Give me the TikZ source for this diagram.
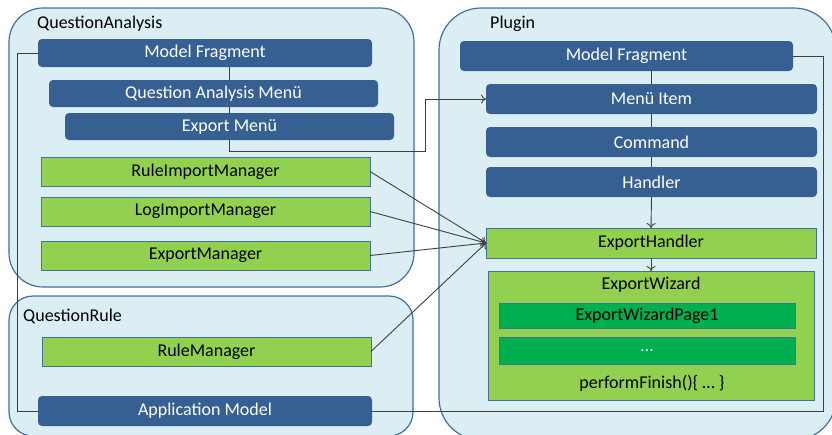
\documentclass[tikz,border=0pt]{standalone}
\usepackage{fontspec}
\setmainfont{Carlito}
\usetikzlibrary{arrows.meta}

\definecolor{modelblue}{HTML}{376092}
\definecolor{managergreen}{HTML}{92D050}
\definecolor{pagegreen}{HTML}{00B050}
\definecolor{groupbg}{HTML}{DBEEF4}
\definecolor{groupedge}{HTML}{41719C}

\tikzset{
  group/.style={draw=groupedge, line width=1.2pt, fill=groupbg, inner sep=0pt, outer sep=0pt},
  grouplabel/.style={anchor=base west, inner sep=0pt},
  modelbox/.style={fill=modelblue, text=white, rounded corners=4pt,
    minimum height=28pt, inner sep=0pt, outer sep=0pt},
  managerbox/.style={draw=groupedge, line width=1pt, fill=managergreen,
    minimum width=329pt, minimum height=29pt, inner sep=0pt, outer sep=0pt},
  pagebox/.style={draw=groupedge, line width=1pt, fill=pagegreen,
    minimum width=296pt, inner sep=0pt, outer sep=0pt},
  link/.style={draw=black!75, line width=0.9pt},
  >={To[length=5pt,width=9pt]}
}

\begin{document}
\begin{tikzpicture}[x=1pt, y=-1pt, font=\fontsize{18}{21}\selectfont]
  \useasboundingbox (0,0) rectangle (832,434);

  % the three plug-ins
  \node[group, rounded corners=34pt, minimum width=405pt, minimum height=279pt] (qa) at (211.5,147.5) {};
  \node[group, rounded corners=24pt, minimum width=404pt, minimum height=140pt] (qr) at (211,366) {};
  \node[group, rounded corners=42pt, minimum width=397pt, minimum height=432pt] (plugin) at (637.5,224) {};
  \node[grouplabel] (qalabel) at (37,28) {QuestionAnalysis};
  \node[grouplabel] (qrlabel) at (23,321) {QuestionRule};
  \node[grouplabel] (pluginlabel) at (490,28) {Plugin};

  % QuestionAnalysis / QuestionRule
  \node[modelbox, minimum width=334pt] (qamodel) at (205,53) {Model Fragment};
  \node[modelbox, minimum width=329pt, minimum height=27pt] (qamenu) at (213.5,93.5) {Question Analysis Menü};
  \node[modelbox, minimum width=329pt, minimum height=27pt] (exportmenu) at (229.5,126.5) {Export Menü};
  \node[managerbox] (ruleimport) at (205.5,171.5) {RuleImportManager};
  \node[managerbox] (logimport) at (205.5,211.5) {LogImportManager};
  \node[managerbox] (exportmgr) at (205.5,255.5) {ExportManager};
  \node[managerbox] (rulemgr) at (206.5,351.5) {RuleManager};
  \node[modelbox, minimum width=334pt, minimum height=30pt] (appmodel) at (205,411) {Application Model};

  % Plugin
  \node[modelbox, minimum width=333pt, minimum height=30pt] (pmodel) at (626.5,56) {Model Fragment};
  \node[modelbox, minimum width=331pt, minimum height=30pt] (menuitem) at (651.5,99) {Menü Item};
  \node[modelbox, minimum width=331pt, minimum height=30pt] (command) at (651.5,142) {Command};
  \node[modelbox, minimum width=331pt, minimum height=30pt] (handler) at (651.5,182) {Handler};
  \node[managerbox, minimum width=330pt, minimum height=30pt] (exporthandler) at (651,243) {ExportHandler};
  \node[managerbox, minimum width=326pt, minimum height=129pt] (wizard) at (651,335.5) {};
  \node (wizardlabel) at (651,285) {ExportWizard};
  \node[pagebox, minimum height=25pt] (page1) at (647,315.5) {ExportWizardPage1};
  \node[pagebox, minimum height=27pt, text=white] (pagedots) at (647,350.5) {…};
  \node (finish) at (652,383) {performFinish()\{ … \}};

  % connections
  \coordinate (bend) at (425,99);
  \draw[link] (qamodel.south -| exportmenu) -- (qamenu.north -| exportmenu);
  \draw[link] (qamenu.south -| exportmenu) -- (exportmenu.north);
  \draw[link,->] (exportmenu.south) -- ++(0,11) -| (bend) -- (menuitem.west);
  \draw[link] (qamodel.west) -- ++(-21,0) |- (appmodel.west);
  \draw[link] (appmodel.east) -- ++(451,0) |- (pmodel.east);
  \draw[link] (pmodel.south -| menuitem) -- (menuitem.north);
  \draw[link] (menuitem.south) -- (command.north);
  \draw[link] (command.south) -- (handler.north);
  \draw[link,->] (handler.south) -- (exporthandler.north);
  \draw[link,->] (exporthandler.south) -- (wizard.north);
  \foreach \m in {ruleimport,logimport,exportmgr,rulemgr}
    \draw[link,->] (\m.east) -- (exporthandler.west);
\end{tikzpicture}
\end{document}
